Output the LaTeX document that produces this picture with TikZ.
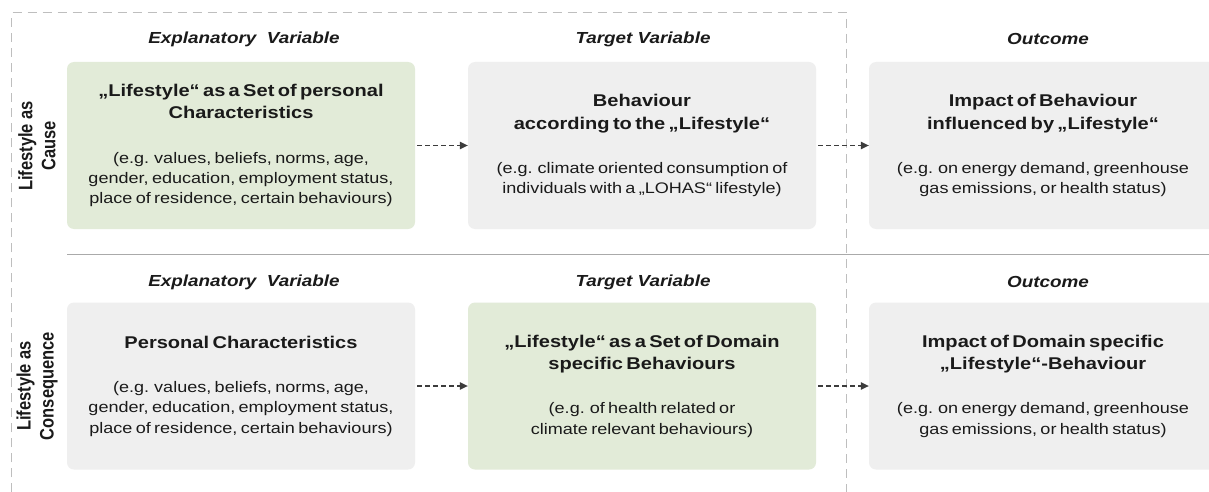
\documentclass[tikz,border=0pt]{standalone}
\usepackage{fontspec}
\setmainfont{Liberation Sans}[FakeStretch=1.18]
\newfontfamily\sidefont{Liberation Sans}
\usetikzlibrary{arrows.meta}
\definecolor{boxgreen}{RGB}{226,235,216}
\definecolor{boxgray}{RGB}{239,239,239}
\definecolor{framegray}{RGB}{190,190,190}
\definecolor{rulegray}{RGB}{170,170,170}
\definecolor{inkdark}{RGB}{26,26,26}
\definecolor{linkgray}{RGB}{60,60,60}
\newcommand\ttlfont{\fontsize{17}{22.5}\selectfont\bfseries}
\newcommand\bdyfont{\fontsize{15.3}{20.3}\selectfont}
\newcommand\boxtext[2]{{\ttlfont #1\par}\vspace{24pt}{\bdyfont #2\par}}
\tikzset{
  varbox/.style={rectangle, rounded corners=7pt, draw=none, minimum width=348pt,
    minimum height=167pt, text width=340pt, align=center, text=inkdark},
  greenbox/.style={varbox, fill=boxgreen},
  graybox/.style={varbox, fill=boxgray},
  colhead/.style={font=\fontsize{16}{19}\selectfont\bfseries\itshape, text=inkdark},
  rowlabel/.style={font=\sidefont\fontsize{16.5}{19.5}\selectfont\bfseries, align=center,
    rotate=90, transform shape, text=inkdark},
  flow/.style={dash pattern=on 5pt off 3pt, line width=1.1pt, draw=linkgray,
    shorten <=2pt, -{Triangle[length=8pt,width=7.5pt]}},
  frame/.style={dash pattern=on 9pt off 6pt, line width=1pt, draw=framegray},
}
\begin{document}
\begin{tikzpicture}[x=1pt,y=-1pt]
\useasboundingbox (0,0) rectangle (1209,492);
\clip (0,0) rectangle (1209,492);
\fill[white] (0,0) rectangle (1209,492);

% dashed frame around the first two columns
\draw[frame] (11.5,492) -- (11.5,13) -- (846.5,13) -- (846.5,492);
% separator between the two rows
\draw[rulegray, line width=1pt] (67,254.5) -- (1209,254.5);

% column headings
\node[colhead] (h11) at (244,39) {Explanatory\ \ Variable};
\node[colhead] (h12) at (643,39) {Target Variable};
\node[colhead] (h13) at (1048,39) {Outcome};
\node[colhead] (h21) at (244,282) {Explanatory\ \ Variable};
\node[colhead] (h22) at (643,282) {Target Variable};
\node[colhead] (h23) at (1048,282) {Outcome};

% row labels, widened across their lines like the rest of the lettering
\begin{scope}[xscale=1.18]
\node[rowlabel] (r1) at (37/1.18,146) {Lifestyle as\\Cause};
\node[rowlabel] (r2) at (37/1.18,386) {Lifestyle as\\Consequence};
\end{scope}

% first row: lifestyle as cause
\node[greenbox] (a1) at (241,145.5) {\boxtext{„Lifestyle“ as a Set of personal\\Characteristics}{(e.g. values, beliefs, norms, age,\\gender, education, employment status,\\place of residence, certain behaviours)}};
\node[graybox] (b1) at (642,145.5) {\boxtext{Behaviour\\according to the „Lifestyle“}{(e.g. climate oriented consumption of\\individuals with a „LOHAS“ lifestyle)}};
\node[graybox] (c1) at (1043,145.5) {\boxtext{Impact of Behaviour\\influenced by „Lifestyle“}{(e.g. on energy demand, greenhouse\\gas emissions, or health status)}};

% second row: lifestyle as consequence
\node[graybox] (a2) at (241,386) {\boxtext{Personal Characteristics}{(e.g. values, beliefs, norms, age,\\gender, education, employment status,\\place of residence, certain behaviours)}};
\node[greenbox] (b2) at (642,386) {\boxtext{„Lifestyle“ as a Set of Domain\\specific Behaviours}{(e.g. of health related or\\climate relevant behaviours)}};
\node[graybox] (c2) at (1043,386) {\boxtext{Impact of Domain specific\\„Lifestyle“-Behaviour}{(e.g. on energy demand, greenhouse\\gas emissions, or health status)}};

% causal links
\draw[flow] (a1) -- (b1);
\draw[flow] (b1) -- (c1);
\draw[flow] (a2) -- (b2);
\draw[flow] (b2) -- (c2);
\end{tikzpicture}
\end{document}
